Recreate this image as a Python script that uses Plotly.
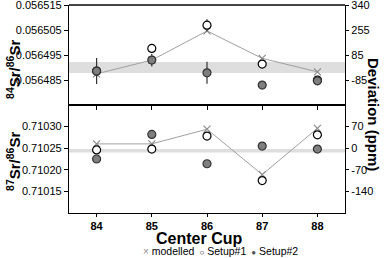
import plotly.graph_objects as go

# ---------------- data ----------------
cups = [84, 85, 86, 87, 88]

# 84Sr/86Sr (top panel)
sr84_modelled = [0.0564875, 0.0564930, 0.0565047, 0.0564937, 0.0564883]
sr84_setup1 = [0.0564886, 0.0564977, 0.0565070, 0.0564914, 0.0564850]
sr84_setup1_err = [0.0, 0.0, 0.0000024, 0.0, 0.0]
sr84_setup2 = [0.0564886, 0.0564930, 0.0564879, 0.0564830, 0.0564847]
sr84_setup2_err = [0.0000052, 0.0000026, 0.0000044, 0.0, 0.0]
sr84_band = [0.0564878, 0.0564922]

# 87Sr/86Sr (bottom panel)
sr87_modelled = [0.710260, 0.710260, 0.710294, 0.710189, 0.710296]
sr87_setup1 = [0.710246, 0.710248, 0.710278, 0.710175, 0.710281]
sr87_setup2 = [0.710225, 0.710282, 0.710214, 0.710255, 0.710248]
sr87_setup2_err = [0.000008, 0.000009, 0.000008, 0.0, 0.0]
sr87_band = [0.710240, 0.710248]

# tick labels
sr84_ticks = [0.056485, 0.056495, 0.056505, 0.056515]
sr84_dev_labels = ["-85", "85", "255", "340"]
sr87_ticks = [0.71015, 0.71020, 0.71025, 0.71030]
sr87_dev_labels = ["-140", "-70", "0", "70"]

sr84_range = [0.056475, 0.0565151]
sr87_range = [0.71010, 0.71035]

# ---------------- style ----------------
FONT = "Liberation Sans, Arial, sans-serif"
GRAY_FILL = "#7f7f7f"
DARK = "#333333"
MOD_COL = "#8c8c8c"
BAND = "#dedede"
split = 108 / 208

fig = go.Figure()

def add_panel(xa, ya, ya_right, mod, s1, s2, s1err, s2err):
    fig.add_trace(go.Scatter(
        x=cups, y=mod, xaxis=xa, yaxis=ya, mode="lines+markers",
        line=dict(color="#a0a0a0", width=1),
        marker=dict(symbol="x-thin", size=7, line=dict(color=MOD_COL, width=1.2)),
        showlegend=False, hoverinfo="skip"))
    fig.add_trace(go.Scatter(
        x=cups, y=s1, xaxis=xa, yaxis=ya, mode="markers",
        marker=dict(symbol="circle", size=8, color="white", line=dict(color="black", width=1.2)),
        error_y=dict(type="data", array=s1err, color=DARK, thickness=1.2, width=0) if s1err else None,
        showlegend=False, hoverinfo="skip"))
    fig.add_trace(go.Scatter(
        x=cups, y=s2, xaxis=xa, yaxis=ya, mode="markers",
        marker=dict(symbol="circle", size=8, color=GRAY_FILL, line=dict(color=DARK, width=1.2)),
        error_y=dict(type="data", array=s2err, color=DARK, thickness=1.2, width=0),
        showlegend=False, hoverinfo="skip"))
    # invisible trace so the right-hand deviation axis is drawn
    fig.add_trace(go.Scatter(
        x=cups, y=mod, xaxis=xa, yaxis=ya_right, mode="markers",
        marker=dict(opacity=0), showlegend=False, hoverinfo="skip"))

add_panel("x2", "y3", "y4", sr84_modelled, sr84_setup1, sr84_setup2, sr84_setup1_err, sr84_setup2_err)
add_panel("x", "y", "y2", sr87_modelled, sr87_setup1, sr87_setup2, None, sr87_setup2_err)

# reference bands
fig.add_shape(type="rect", xref="x2 domain", yref="y3", x0=0, x1=1,
              y0=sr84_band[0], y1=sr84_band[1], fillcolor=BAND, line_width=0, layer="below")
fig.add_shape(type="rect", xref="x domain", yref="y", x0=0, x1=1,
              y0=sr87_band[0], y1=sr87_band[1], fillcolor=BAND, line_width=0, layer="below")

tickfont = dict(family=FONT, size=11, color="black")

common = dict(showgrid=False, zeroline=False, automargin=False, tickcolor="black",
              showline=True, linecolor="black", linewidth=1.2, ticklabeloverflow="allow")

fig.update_layout(
    template="none",
    width=387, height=258,
    margin=dict(l=69, r=42, t=5, b=45, autoexpand=False),
    paper_bgcolor="white", plot_bgcolor="white",
    font=dict(family=FONT, color="black"),
    showlegend=False,
    xaxis=dict(domain=[0, 1], anchor="y", range=[83.5, 88.5],
               tickvals=cups, ticks="outside", ticklen=3, mirror=True,
               tickfont=dict(family=FONT, size=11, color="black", weight="bold"),
               **common),
    xaxis2=dict(domain=[0, 1], anchor="y3", range=[83.5, 88.5], matches="x",
                tickvals=cups, ticks="outside", ticklen=4,
                showticklabels=False, **common),
    yaxis=dict(domain=[0, split], anchor="x", range=sr87_range,
               tickvals=sr87_ticks, tickformat=".5f", ticks="outside", ticklen=4,
               tickfont=tickfont, **common),
    yaxis2=dict(anchor="x", overlaying="y", side="right",
                range=sr87_range, tickvals=sr87_ticks, ticktext=sr87_dev_labels,
                ticks="outside", ticklen=3, tickfont=tickfont, **common),
    yaxis3=dict(domain=[split, 1], anchor="x2", range=sr84_range,
                tickvals=sr84_ticks, tickformat=".6f", ticks="outside", ticklen=4,
                tickfont=tickfont, **common),
    yaxis4=dict(anchor="x2", overlaying="y3", side="right",
                range=sr84_range, tickvals=sr84_ticks, ticktext=sr84_dev_labels,
                ticks="outside", ticklen=3, tickfont=tickfont, **common),
)

# top frame line of upper panel
fig.add_shape(type="line", xref="paper", yref="paper", x0=0, x1=1, y0=1, y1=1,
              line=dict(color="#444444", width=2))

# axis titles
fig.add_annotation(text="<b><sup>84</sup>Sr/<sup>86</sup>Sr</b>", xref="paper", yref="paper",
                   x=0, xshift=-55, y=0.76, yshift=-15, xanchor="center", yanchor="middle",
                   textangle=-90, showarrow=False,
                   font=dict(family=FONT, size=15, color="black"))
fig.add_annotation(text="<b><sup>87</sup>Sr/<sup>86</sup>Sr</b>", xref="paper", yref="paper",
                   x=0, xshift=-55, y=0.255, yshift=-2, xanchor="center", yanchor="middle",
                   textangle=-90, showarrow=False,
                   font=dict(family=FONT, size=15, color="black"))
fig.add_annotation(text="<b>Deviation (ppm)</b>", xref="paper", yref="paper",
                   x=1, xshift=28, y=0.476, xanchor="center", yanchor="middle",
                   textangle=90, showarrow=False,
                   font=dict(family=FONT, size=15, color="black"))
fig.add_annotation(text="<b>Center Cup</b>", xref="paper", yref="paper",
                   x=0.47, y=0, yshift=-25, xanchor="center", yanchor="middle",
                   showarrow=False, font=dict(family=FONT, size=16, color="black"))

# legend (as text)
fig.add_annotation(
    text=("<span style='color:#8c8c8c;font-size:10px'>×</span> modelled"
          " &#8201;<span style='font-size:8px'>○</span> Setup#1"
          " &#8201;<span style='color:#555555;font-size:8px'>●</span> Setup#2"),
    xref="paper", yref="paper", x=0.55, y=0, yshift=-38, xanchor="center", yanchor="middle",
    showarrow=False, font=dict(family=FONT, size=10.5, color="black"))

fig.write_html("out.html", config={"displayModeBar": False},
               post_script="document.body.style.margin='0';document.body.style.overflow='hidden';")
